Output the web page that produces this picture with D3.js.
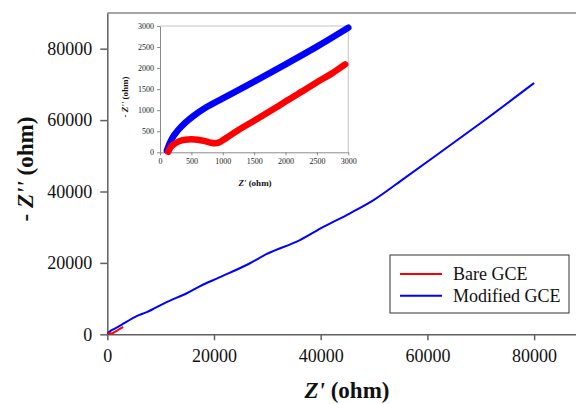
<!DOCTYPE html>
<html><head><meta charset="utf-8">
<script src="https://cdn.jsdelivr.net/npm/d3@7"></script>
<style>body{margin:0;background:#fff}svg{display:block}svg text{font-family:"Liberation Serif","Times New Roman",serif !important}</style>
</head><body><svg id="c" width="576" height="404"></svg>
<script>
// Bare GCE: Z' (ohm) and -Z'' (ohm)
const bareZre = [130,160,220,300,400,500,600,700,800,870,950,1000,1100,1250,1500,1750,2000,2250,2500,2750,2950];
const bareZim = [10,100,190,260,300,310,300,270,230,215,240,285,385,530,750,975,1205,1435,1665,1885,2090];
// Modified GCE
const modZre = [110,130,160,200,290,400,530,750,1000,1500,2000,2500,3000,5500,7400,9000,11100,14900,17400,20800,26750,29900,36100,40500,45500,49900,55200,62000,70000,80000];
const modZim = [40,120,230,350,530,700,860,1080,1280,1680,2090,2510,2960,5100,6200,7400,9000,11500,13500,15800,19900,22500,26400,30100,33900,37600,43200,50500,59200,70400];
const seriesNames = ["Bare GCE","Modified GCE"];
const mainXTicks = [0,20000,40000,60000,80000];
const mainYTicks = [0,20000,40000,60000,80000];
const insetTicks = [0,500,1000,1500,2000,2500,3000];

const SERIF = "Liberation Serif, Times New Roman, serif";
const bare = bareZre.map((x,i)=>({x, y:bareZim[i]}));
const mod = modZre.map((x,i)=>({x, y:modZim[i]}));
const svg = d3.select("#c");
const RED="#ff0000", BLUE="#0000ff";

// ---------- main chart ----------
const x = d3.scaleLinear().domain([0,88000]).range([107.3,576.8]);
const y = d3.scaleLinear().domain([0,90000]).range([334.3,13]);

svg.append("line").attr("x1",x(0)).attr("x2",576).attr("y1",y(90000)).attr("y2",y(90000))
  .attr("stroke","#888").attr("stroke-width",1.5);

const xa = svg.append("g").attr("transform",`translate(0,${y(0)})`)
  .call(d3.axisBottom(x).tickValues(mainXTicks).tickSize(6).tickPadding(9).tickSizeOuter(0).tickFormat(d3.format("d")));
const ya = svg.append("g").attr("transform",`translate(${x(0)},0)`)
  .call(d3.axisLeft(y).tickValues(mainYTicks).tickSize(7).tickPadding(8).tickSizeOuter(0).tickFormat(d3.format("d")));
[xa,ya].forEach(g=>{
  g.attr("font-family",SERIF).attr("font-size",18);
  g.select(".domain").attr("stroke","#606060").attr("stroke-width",1.5);
  g.selectAll(".tick line").attr("stroke","#606060").attr("stroke-width",1.5);
  g.selectAll("text").attr("font-size",18).attr("fill","#111").attr("font-family",SERIF);
});

const line = d3.line().x(d=>x(d.x)).y(d=>y(d.y)).curve(d3.curveMonotoneX);
svg.append("path").datum(mod).attr("d",line).attr("fill","none").attr("stroke",BLUE).attr("stroke-width",2);
svg.append("path").datum(bare).attr("d",line).attr("fill","none").attr("stroke",RED).attr("stroke-width",2);

// axis titles
const xt = svg.append("text").attr("x",347).attr("y",398).attr("text-anchor","middle")
  .attr("font-family",SERIF).attr("font-size",23).attr("font-weight","bold").attr("fill","#111");
xt.append("tspan").attr("font-style","italic").text("Z'");
xt.append("tspan").text(" (ohm)");
const yt = svg.append("text").attr("transform","translate(33,169) rotate(-90)").attr("text-anchor","middle")
  .attr("font-family",SERIF).attr("font-size",23).attr("font-weight","bold").attr("fill","#111");
yt.append("tspan").text("- ");
yt.append("tspan").attr("font-style","italic").text("Z''");
yt.append("tspan").text(" (ohm)");

// legend
const lg = svg.append("g");
lg.append("rect").attr("x",390).attr("y",255).attr("width",179).attr("height",58)
  .attr("fill","#fff").attr("stroke","#333").attr("stroke-width",1);
seriesNames.forEach((n,i)=>{
  const yy = 274 + i*21.7;
  lg.append("line").attr("x1",400).attr("x2",442).attr("y1",yy).attr("y2",yy)
    .attr("stroke",i===0?RED:BLUE).attr("stroke-width",2);
  lg.append("text").attr("x",453).attr("y",yy+6).attr("font-family",SERIF).attr("font-size",18).attr("fill","#111").text(n);
});

// ---------- inset ----------
const ix = d3.scaleLinear().domain([0,3000]).range([160,348.3]);
const iy = d3.scaleLinear().domain([0,3000]).range([152.3,26]);
const ins = svg.append("g");
ins.append("path").attr("d",`M${ix(0)},${iy(3000)}H${ix(3000)}V${iy(0)}`)
  .attr("fill","none").attr("stroke","#c4c4c4").attr("stroke-width",1);
const ixa = ins.append("g").attr("transform",`translate(0,${iy(0)})`)
  .call(d3.axisBottom(ix).tickValues(insetTicks).tickSize(3).tickPadding(3).tickSizeOuter(0).tickFormat(d3.format("d")));
const iya = ins.append("g").attr("transform",`translate(${ix(0)},0)`)
  .call(d3.axisLeft(iy).tickValues(insetTicks).tickSize(3).tickPadding(3).tickSizeOuter(0).tickFormat(d3.format("d")));
[ixa,iya].forEach(g=>{
  g.attr("font-family",SERIF).attr("font-size",8);
  g.select(".domain").attr("stroke","#8a8a8a").attr("stroke-width",1);
  g.selectAll(".tick line").attr("stroke","#8a8a8a");
  g.selectAll("text").attr("font-size",8).attr("fill","#222").attr("font-family",SERIF);
});
const iline = d3.line().x(d=>ix(d.x)).y(d=>iy(d.y)).curve(d3.curveMonotoneX);
const modIn = mod.filter(d=>d.x<=3000);
ins.append("path").datum(modIn).attr("d",iline).attr("fill","none").attr("stroke",BLUE)
  .attr("stroke-width",6.5).attr("stroke-linecap","round").attr("stroke-linejoin","round");
ins.append("path").datum(bare).attr("d",iline).attr("fill","none").attr("stroke",RED)
  .attr("stroke-width",6.5).attr("stroke-linecap","round").attr("stroke-linejoin","round");
const ixt = ins.append("text").attr("x",255).attr("y",186).attr("text-anchor","middle")
  .attr("font-family",SERIF).attr("font-size",9).attr("font-weight","bold").attr("fill","#111");
ixt.append("tspan").attr("font-style","italic").text("Z'");
ixt.append("tspan").text(" (ohm)");
const iyt = ins.append("text").attr("transform","translate(128,97) rotate(-90)").attr("text-anchor","middle")
  .attr("font-family",SERIF).attr("font-size",9).attr("font-weight","bold").attr("fill","#111");
iyt.append("tspan").text("- ");
iyt.append("tspan").attr("font-style","italic").text("Z''");
iyt.append("tspan").text(" (ohm)");
</script></body></html>
